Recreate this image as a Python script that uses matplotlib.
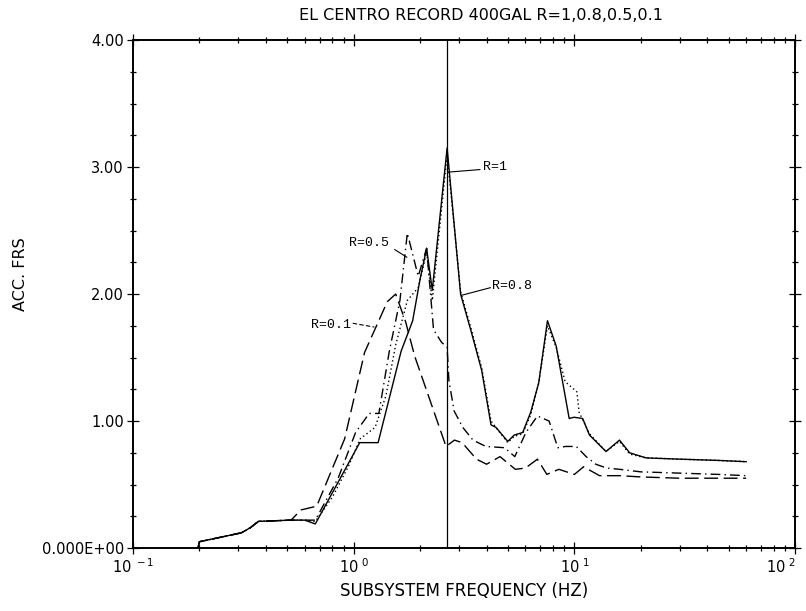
import matplotlib
matplotlib.use("Agg")
import matplotlib.pyplot as plt
from matplotlib.ticker import FixedLocator, FixedFormatter, MultipleLocator, LogLocator, NullFormatter

plt.rcParams['font.family'] = ['DejaVu Sans']

title = "EL CENTRO RECORD 400GAL R=1,0.8,0.5,0.1"
x_label = "SUBSYSTEM FREQUENCY (HZ)"
y_label = "ACC. FRS"

y_ticks = [0, 1, 2, 3, 4]
y_tick_labels = ["0.000E+00", "1.00", "2.00", "3.00", "4.00"]
x_ticks = [0.1, 1, 10, 100]
x_tick_labels = [r"$10^{\ -1}$", r"$10^{\ 0}$", r"$10^{\ 1}$", r"$10^{\ 2}$"]

# reference frequency (vertical marker)
ref_freq = 2.65

# R = 1 (solid)
freq_r10 = [0.197, 0.20, 0.31, 0.34, 0.37, 0.52, 0.60, 0.67, 1.065, 1.29, 1.64, 1.85,
            2.00, 2.14, 2.27, 2.65, 3.05, 3.40, 3.80, 4.19, 4.41, 4.99, 5.34, 5.83,
            6.34, 6.89, 7.55, 8.27, 9.47, 9.96, 10.9, 11.7, 13.9, 16.0, 17.8, 21.1,
            30.0, 45.0, 60.0]
acc_r10 = [0.00, 0.05, 0.12, 0.16, 0.21, 0.22, 0.22, 0.19, 0.83, 0.83, 1.55, 1.79,
           2.12, 2.36, 2.03, 3.15, 2.00, 1.71, 1.40, 0.97, 0.95, 0.84, 0.89, 0.91,
           1.07, 1.30, 1.79, 1.59, 1.02, 1.03, 1.02, 0.89, 0.76, 0.85, 0.75, 0.71,
           0.70, 0.69, 0.68]

# R = 0.8 (dotted)
freq_r08 = [0.197, 0.20, 0.31, 0.34, 0.37, 0.52, 0.60, 0.67, 0.80, 0.95, 1.07, 1.25,
            1.40, 1.55, 1.75, 1.96, 2.14, 2.27, 2.65, 3.05, 3.40, 3.80, 4.19, 4.41,
            4.99, 5.34, 5.83, 6.34, 6.89, 7.55, 8.27, 9.08, 10.26, 10.5, 11.7, 13.9,
            16.0, 17.8, 21.1, 30.0, 45.0, 60.0]
acc_r08 = [0.00, 0.05, 0.12, 0.16, 0.21, 0.22, 0.22, 0.21, 0.40, 0.65, 0.86, 0.95,
           1.20, 1.60, 1.95, 2.05, 2.33, 1.95, 3.10, 2.02, 1.73, 1.42, 1.00, 0.95,
           0.83, 0.88, 0.90, 1.05, 1.30, 1.75, 1.58, 1.31, 1.23, 1.07, 0.90, 0.76,
           0.84, 0.74, 0.71, 0.70, 0.69, 0.68]

# R = 0.5 (dash-dot)
freq_r05 = [0.197, 0.20, 0.31, 0.34, 0.37, 0.52, 0.60, 0.67, 0.72, 0.85, 1.02, 1.175,
            1.30, 1.45, 1.62, 1.75, 1.96, 2.14, 2.30, 2.50, 2.65, 2.70, 2.85, 3.12,
            3.47, 3.97, 4.83, 5.37, 6.03, 6.80, 7.68, 8.41, 9.10, 10.2, 11.3, 12.5,
            14.0, 16.0, 20.0, 30.0, 45.0, 60.0]
acc_r05 = [0.00, 0.05, 0.12, 0.16, 0.21, 0.22, 0.22, 0.22, 0.32, 0.55, 0.91, 1.06,
           1.06, 1.55, 1.95, 2.48, 2.14, 2.36, 1.72, 1.62, 1.58, 1.32, 1.08, 0.95,
           0.85, 0.80, 0.79, 0.72, 0.91, 1.04, 1.00, 0.79, 0.80, 0.80, 0.72, 0.66,
           0.63, 0.62, 0.60, 0.59, 0.58, 0.57]

# R = 0.1 (long dash)
freq_r01 = [0.197, 0.20, 0.31, 0.34, 0.37, 0.52, 0.577, 0.68, 0.91, 1.12, 1.42, 1.55,
            1.72, 1.89, 2.62, 2.86, 3.10, 3.60, 4.00, 4.60, 5.40, 6.00, 6.80, 7.50,
            8.50, 10.0, 11.0, 13.0, 16.0, 20.0, 30.0, 45.0, 60.0]
acc_r01 = [0.00, 0.05, 0.12, 0.16, 0.21, 0.22, 0.30, 0.33, 0.86, 1.54, 1.94, 2.00,
           1.78, 1.51, 0.80, 0.85, 0.83, 0.70, 0.66, 0.72, 0.62, 0.63, 0.70, 0.58,
           0.62, 0.58, 0.64, 0.57, 0.57, 0.56, 0.55, 0.55, 0.55]

fig = plt.figure(figsize=(8.06, 6.11), dpi=100)
ax = fig.add_axes([0.165, 0.103, 0.8215, 0.8315])

lw = 1.0
ax.plot(freq_r10, acc_r10, color="black", lw=lw, ls="-")
ax.plot(freq_r08, acc_r08, color="black", lw=lw, ls=(0, (1, 2)))
ax.plot(freq_r05, acc_r05, color="black", lw=lw, ls=(0, (7, 3, 1, 3)))
ax.plot(freq_r01, acc_r01, color="black", lw=lw, ls=(0, (10, 4)))
ax.axvline(ref_freq, color="black", lw=0.9)

ax.set_xscale("log")
ax.set_xlim(0.1, 100)
ax.set_ylim(0, 4)

ax.xaxis.set_major_locator(FixedLocator(x_ticks))
ax.xaxis.set_major_formatter(FixedFormatter(x_tick_labels))
ax.xaxis.set_minor_locator(LogLocator(base=10, subs=range(2, 10)))
ax.xaxis.set_minor_formatter(NullFormatter())
ax.yaxis.set_major_locator(FixedLocator(y_ticks))
ax.yaxis.set_major_formatter(FixedFormatter(y_tick_labels))
ax.yaxis.set_minor_locator(MultipleLocator(0.25))

ax.tick_params(which="both", direction="inout", top=True, right=True,
               width=0.9, labelsize=10.5)
ax.tick_params(which="major", length=9, pad=2)
ax.tick_params(which="minor", length=4)
for s in ax.spines.values():
    s.set_linewidth(1.4)

# keep the last decade label inside the canvas
xlabels = ax.get_xticklabels()
xlabels[-1].set_horizontalalignment("right")

ax.set_xlabel(x_label, fontsize=12)
ax.xaxis.set_label_coords(0.5, -0.066)
ax.set_ylabel(y_label, fontsize=11.5)
ax.yaxis.set_label_coords(-0.158, 0.54)
fig.text(0.597, 0.975, title, ha="center", va="center", fontsize=11.5)

mono = dict(family="Liberation Mono", fontsize=9.5, va="center")
ax.text(3.85, 3.00, "R=1", ha="left", **mono)
ax.plot([2.69, 3.73], [2.96, 2.98], color="black", lw=0.8)
ax.text(4.25, 2.06, "R=0.8", ha="left", **mono)
ax.plot([3.08, 4.16], [1.99, 2.05], color="black", lw=0.8)
ax.text(1.45, 2.40, "R=0.5", ha="right", **mono)
ax.plot([1.535, 1.74], [2.35, 2.29], color="black", lw=0.8)
ax.text(0.975, 1.76, "R=0.1", ha="right", **mono)
ax.plot([0.99, 1.24], [1.77, 1.74], color="black", lw=0.8, ls=(0, (4, 2)))

fig.savefig("out.png", dpi=100)
